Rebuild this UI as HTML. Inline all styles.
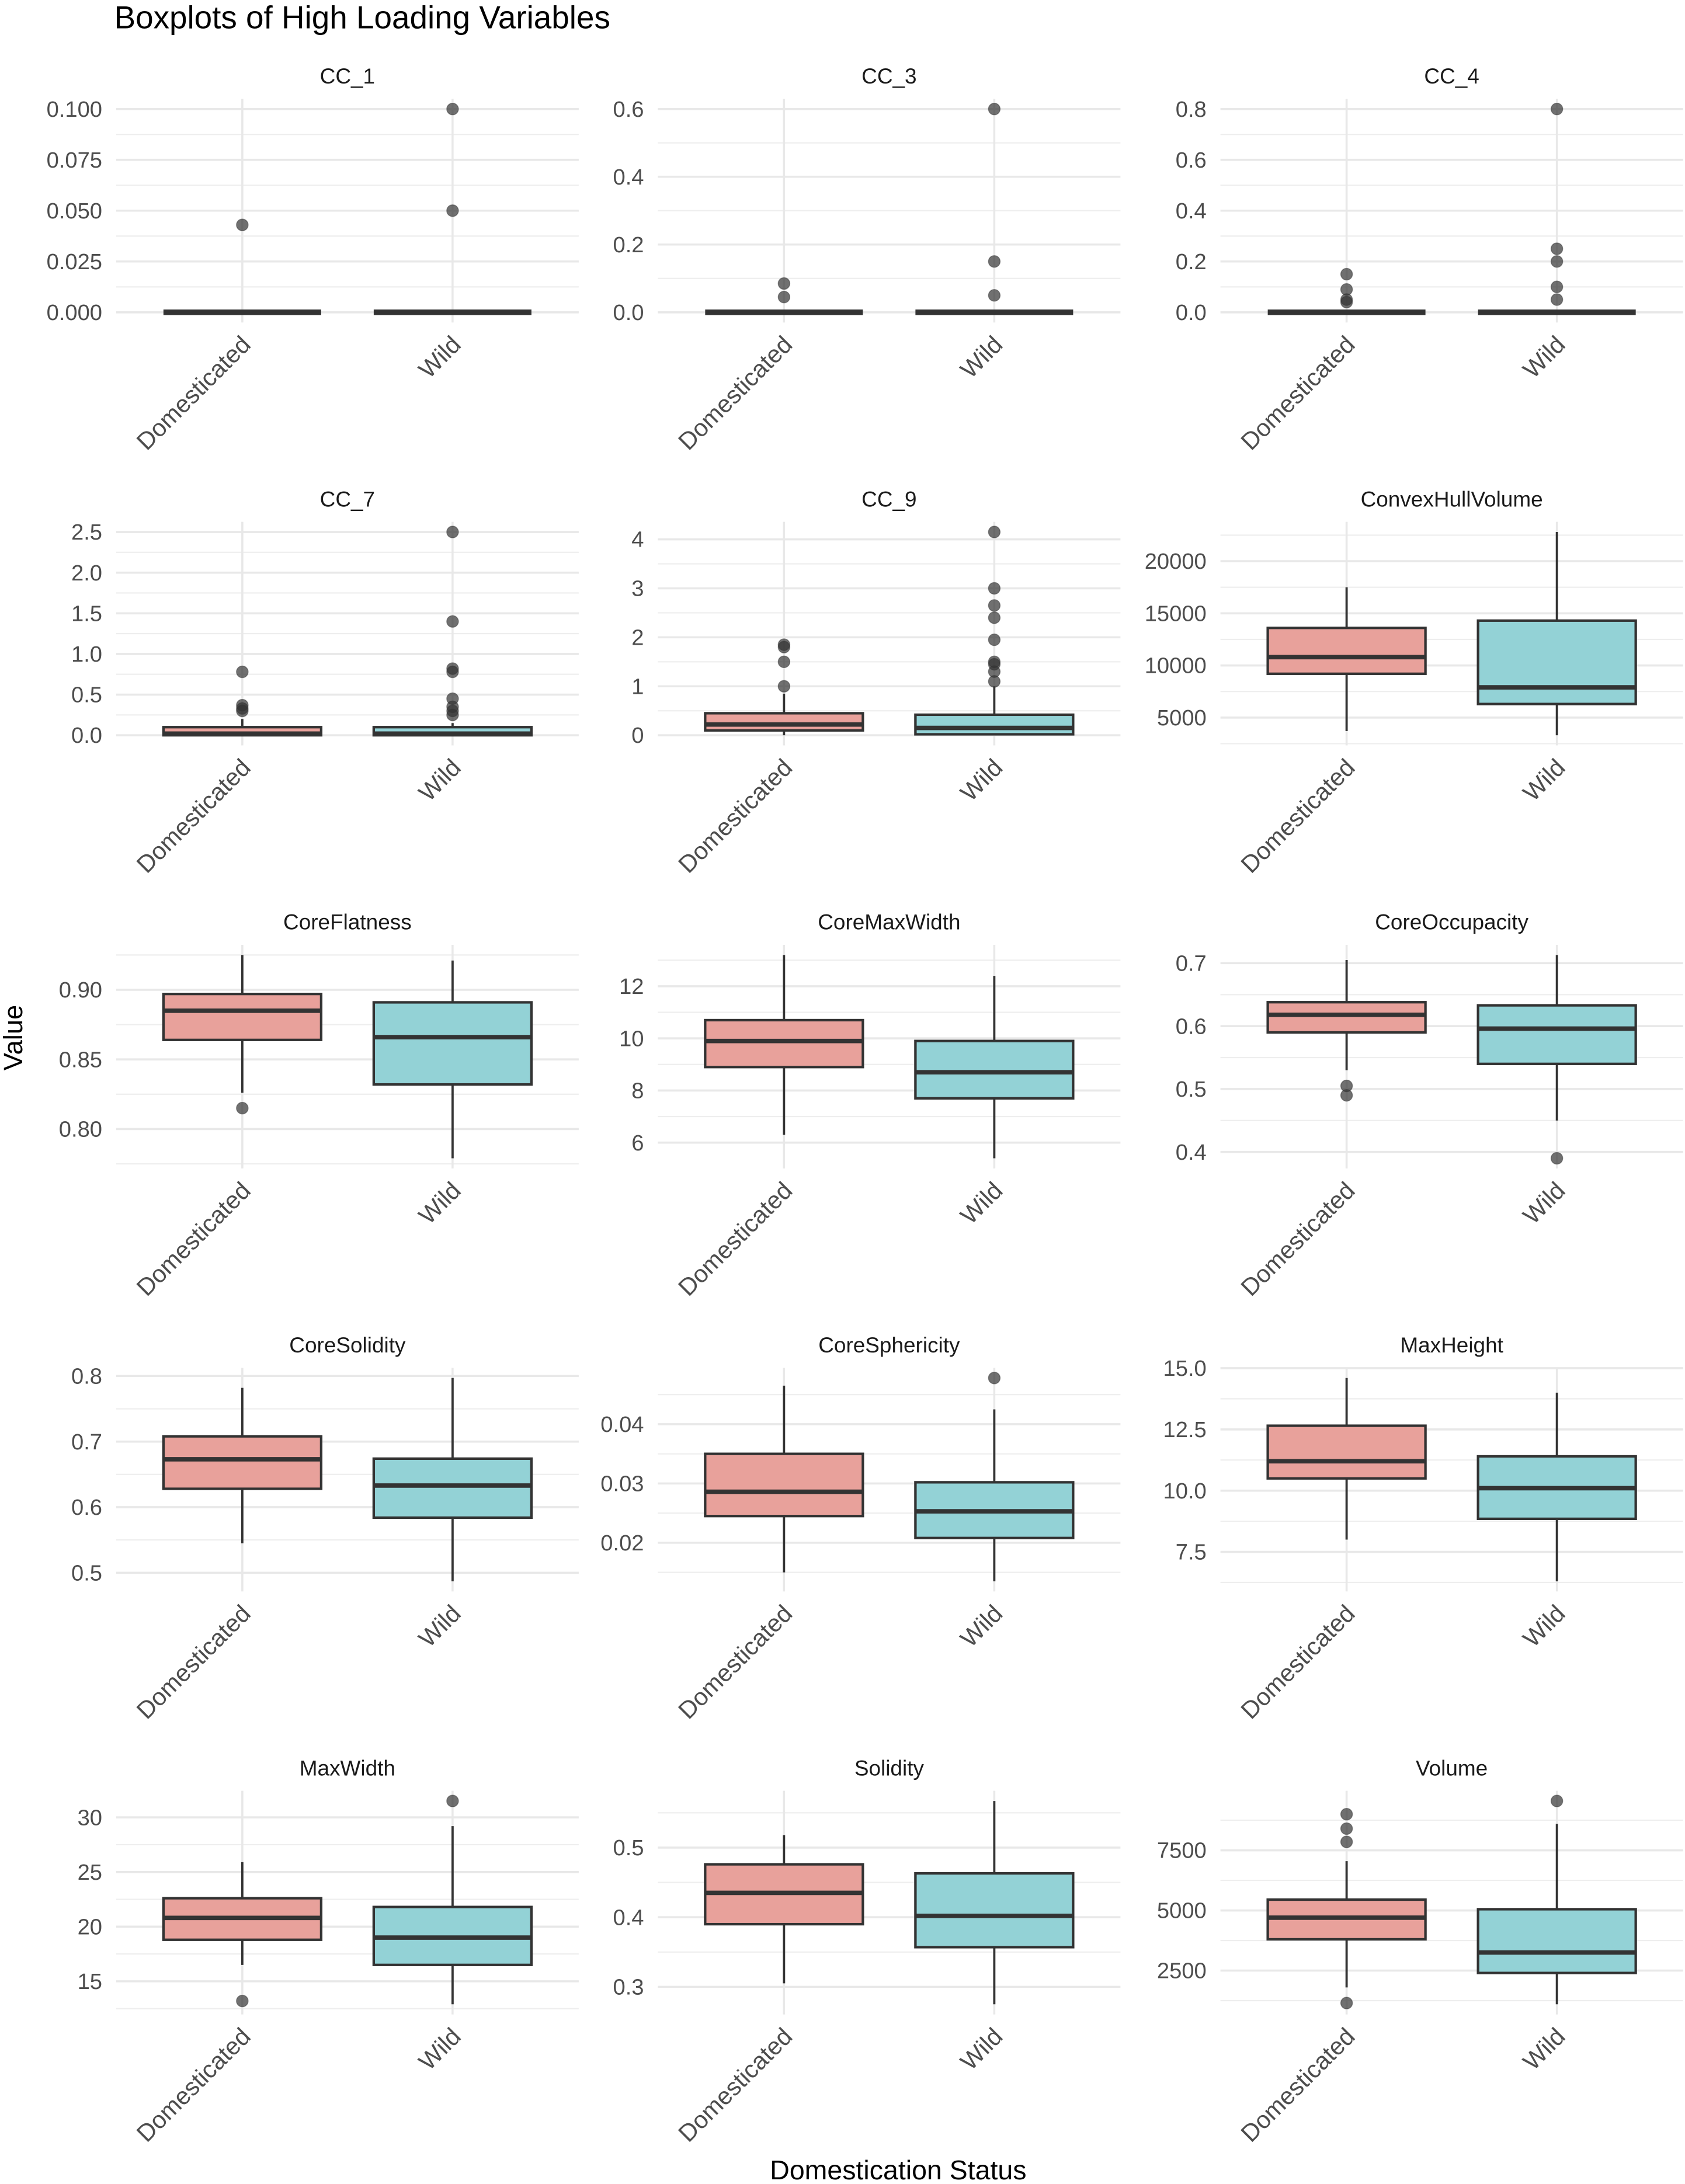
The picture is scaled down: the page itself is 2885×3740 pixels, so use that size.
<!DOCTYPE html>
<html><head><meta charset="utf-8"><style>html,body{margin:0;padding:0;background:#fff}svg{display:block}text{font-family:"Liberation Sans",sans-serif}</style></head>
<body>
<svg id="fig" xmlns="http://www.w3.org/2000/svg" width="2885" height="3740" viewBox="0 0 1210 1568">
<rect x="0" y="0" width="1210" height="1568" fill="#fff"/>
<text x="82" y="20" font-size="23" fill="#000">Boxplots of High Loading Variables</text>
<text transform="translate(16,745) rotate(-90)" text-anchor="middle" font-size="19" fill="#000">Value</text>
<text x="645" y="1565" text-anchor="middle" font-size="19.5" fill="#000">Domestication Status</text>
<g id="panels"></g>
</svg>
<script>
// stats per panel: [whiskLo, q1, med, q3, whiskHi] for Domesticated and Wild
const panelNames = ["CC_1","CC_3","CC_4","CC_7","CC_9","ConvexHullVolume","CoreFlatness","CoreMaxWidth","CoreOccupacity","CoreSolidity","CoreSphericity","MaxHeight","MaxWidth","Solidity","Volume"];
const domStats = [
 [0,0,0,0,0],[0,0,0,0,0],[0,0,0,0,0],[0,0,0.02,0.1,0.2],[0,0.1,0.22,0.45,0.85],[3700,9200,10800,13600,17500],
 [0.826,0.864,0.885,0.897,0.925],[6.3,8.9,9.9,10.7,13.2],[0.53,0.59,0.618,0.638,0.705],
 [0.545,0.628,0.673,0.708,0.782],[0.015,0.0245,0.0286,0.035,0.0465],[8.0,10.5,11.2,12.65,14.6],
 [16.5,18.8,20.8,22.6,25.9],[0.305,0.39,0.435,0.476,0.518],[1800,3800,4700,5450,7050]];
const wildStats = [
 [0,0,0,0,0],[0,0,0,0,0],[0,0,0,0,0],[0,0,0.02,0.1,0.15],[0,0.02,0.15,0.42,1.0],[3300,6300,7900,14300,22800],
 [0.779,0.832,0.866,0.891,0.921],[5.4,7.7,8.7,9.9,12.4],[0.45,0.54,0.596,0.633,0.713],
 [0.487,0.584,0.633,0.674,0.797],[0.0135,0.0208,0.0253,0.0302,0.0425],[6.3,8.85,10.1,11.4,14.0],
 [12.9,16.5,19.0,21.8,29.2],[0.275,0.357,0.402,0.463,0.567],[1100,2400,3250,5050,8600]];
const domOutliers = [[0.043],[0.085,0.045],[0.15,0.09,0.05,0.04],[0.78,0.37,0.33,0.3],[1.85,1.8,1.5,1.0],[],
 [0.815],[],[0.505,0.49],[],[],[],[13.2],[],[9000,8400,7850,1150]];
const wildOutliers = [[0.05,0.1],[0.6,0.15,0.05],[0.8,0.25,0.2,0.1,0.05],[2.5,1.4,0.82,0.78,0.45,0.35,0.3,0.25],
 [4.15,3.0,2.65,2.4,1.95,1.5,1.45,1.3,1.1],[],[],[],[0.39],[],[0.0478],[],[31.5],[],[9550]];
const tickValues = [[0,0.025,0.05,0.075,0.1],[0,0.2,0.4,0.6],[0,0.2,0.4,0.6,0.8],[0,0.5,1,1.5,2,2.5],[0,1,2,3,4],[5000,10000,15000,20000],
 [0.8,0.85,0.9],[6,8,10,12],[0.4,0.5,0.6,0.7],[0.5,0.6,0.7,0.8],[0.02,0.03,0.04],[7.5,10,12.5,15],[15,20,25,30],[0.3,0.4,0.5],[2500,5000,7500]];
const tickLabels = [["0.000","0.025","0.050","0.075","0.100"],["0.0","0.2","0.4","0.6"],["0.0","0.2","0.4","0.6","0.8"],["0.0","0.5","1.0","1.5","2.0","2.5"],["0","1","2","3","4"],["5000","10000","15000","20000"],
 ["0.80","0.85","0.90"],["6","8","10","12"],["0.4","0.5","0.6","0.7"],["0.5","0.6","0.7","0.8"],["0.02","0.03","0.04"],["7.5","10.0","12.5","15.0"],["15","20","25","30"],["0.3","0.4","0.5"],["2500","5000","7500"]];
const categories = ["Domesticated","Wild"];

const NS="http://www.w3.org/2000/svg";
const root=document.getElementById('panels');
function mk(tag,attrs,parent){const e=document.createElementNS(NS,tag);for(const k in attrs)e.setAttribute(k,attrs[k]);parent.appendChild(e);return e;}
const colLeft=[83.4,472.4,876.4], plotW=332.2, rowTop0=70.7, rowStep=303.8, plotH=160.6;
const fills=["#E8A19B","#93D2D6"];
panelNames.forEach((name,i)=>{
  const c=i%3, r=Math.floor(i/3);
  const L=colLeft[c], T=rowTop0+r*rowStep, B=T+plotH;
  const stats=[domStats[i],wildStats[i]], outs=[domOutliers[i],wildOutliers[i]];
  let all=[].concat(stats[0],stats[1],outs[0],outs[1]);
  let mn=Math.min(...all), mx=Math.max(...all);
  const pad=(mx-mn)*0.05; mn-=pad; mx+=pad;
  const y=v=>B-(v-mn)/(mx-mn)*plotH;
  const unit=plotW/2.2;
  const xc=k=>L+unit*(0.6+k);
  const g=mk('g',{},root);
  
  
  const t=mk('text',{x:L+plotW/2,y:T-11,'text-anchor':'middle','font-size':15.5,fill:'#1a1a1a'},g);
  t.textContent=name;
  
  
  const tv=tickValues[i];
  const step=tv[1]-tv[0];
  for(let v=tv[0]-step/2; v<=mx+1e-12; v+=step){ if(v<mn) continue;
    const ln=mk('line',{x1:L,x2:L+plotW,y1:y(v),y2:y(v),stroke:'#eeeeee','stroke-width':0.9},g);
    
    
  }
  tv.forEach((v,k)=>{
    const ln=mk('line',{x1:L,x2:L+plotW,y1:y(v),y2:y(v),stroke:'#e8e8e8','stroke-width':1.5},g);
    
    
    const tl=mk('text',{x:L-10,y:y(v)+5.5,'text-anchor':'end','font-size':16,fill:'#4d4d4d'},g);
    tl.textContent=tickLabels[i][k];
    
    
  });
  categories.forEach((cat,k)=>{
    const x=xc(k);
    const vl=mk('line',{x1:x,x2:x,y1:T,y2:B,stroke:'#e8e8e8','stroke-width':1.5},g);
    
    
    const s=stats[k], hw=unit*0.375;
    const w1=mk('line',{x1:x,x2:x,y1:y(s[0]),y2:y(s[1]),stroke:'#333','stroke-width':1.6},g);
    
    
    const w2=mk('line',{x1:x,x2:x,y1:y(s[3]),y2:y(s[4]),stroke:'#333','stroke-width':1.6},g);
    
    
    const bh=Math.max(y(s[1])-y(s[3]),0);
    const bx=mk('rect',{x:x-hw,y:y(s[3]),width:2*hw,height:bh,fill:fills[k],stroke:'#333','stroke-width':1.8},g);
    
    
    const md=mk('line',{x1:x-hw,x2:x+hw,y1:y(s[2]),y2:y(s[2]),stroke:'#333','stroke-width':bh<1?4:3.2},g);
    
    
    outs[k].forEach(v=>{
      const p=mk('circle',{cx:x,cy:y(v),r:4.2,fill:'#333','fill-opacity':0.7,stroke:'#333','stroke-opacity':0.5,'stroke-width':0.6},g);
      
      
    });
    const xl=mk('text',{transform:'translate('+(x+7)+','+(B+17)+') rotate(-45)','text-anchor':'end','font-size':17.5,fill:'#4d4d4d'},g);
    xl.textContent=cat;
    
    
  });
});
</script>
</body></html>
